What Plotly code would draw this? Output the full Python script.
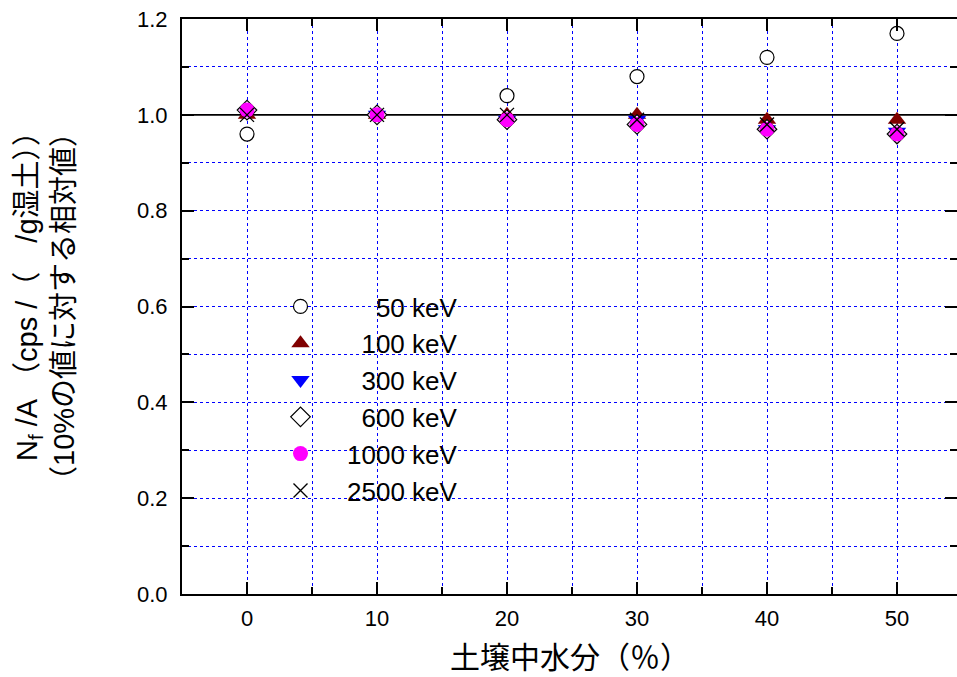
import plotly.graph_objects as go

moisture = [0, 10, 20, 30, 40, 50]
series_names = ["50 keV", "100 keV", "300 keV", "600 keV", "1000 keV", "2500 keV"]
v50 = [0.96, 1.00, 1.04, 1.08, 1.12, 1.17]
v100 = [1.00, 1.00, 1.00, 1.00, 0.99, 0.99]
v300 = [1.005, 1.00, 0.99, 0.99, 0.97, 0.965]
v600 = [1.01, 1.00, 0.99, 0.98, 0.97, 0.96]
v1000 = [1.01, 1.00, 0.99, 0.98, 0.97, 0.96]
v2500 = [1.00, 1.00, 1.00, 0.99, 0.98, 0.97]
ref_level = 1.0
y_ticks = [0.0, 0.2, 0.4, 0.6, 0.8, 1.0, 1.2]
x_ticks = [0, 10, 20, 30, 40, 50]

NB = "\u00a0"
labels = [NB * 4 + "50 keV", NB * 2 + "100 keV", NB * 2 + "300 keV",
          NB * 2 + "600 keV", "1000 keV", "2500 keV"]
values = [v50, v100, v300, v600, v1000, v2500]
styles = [
    dict(symbol="circle", size=14, color="white", line=dict(color="black", width=1.2)),
    dict(symbol="triangle-up", size=16, color="#800000", line=dict(color="#800000", width=0)),
    dict(symbol="triangle-down", size=16, color="#0000FF", line=dict(color="#0000FF", width=0)),
    dict(symbol="diamond", size=15, color="white", line=dict(color="black", width=1.2)),
    dict(symbol="circle", size=15, color="#FF00FF", line=dict(color="#FF00FF", width=0)),
    dict(symbol="x-thin", size=14, color="black", line=dict(color="black", width=1.4)),
]

FONT = "Liberation Sans, Arial, Noto Sans CJK JP, sans-serif"

W, H = 957, 677
ml, mr, mt, mb = 182, 0, 19, 83
pw = W - ml - mr
ph = H - mt - mb
x0 = -5
xr = [x0, x0 + pw / 13.0]
yr = [-0.0001, 1.2001]

fig = go.Figure()
fig.add_trace(go.Scatter(x=xr, y=[ref_level, ref_level], mode="lines",
                         line=dict(color="black", width=1.8), showlegend=False,
                         hoverinfo="skip"))
for name, lab, vals, st in zip(series_names, labels, values, styles):
    fig.add_trace(go.Scatter(x=moisture, y=vals, mode="markers", name=lab,
                             legendgroup=name, marker=st))

axis_common = dict(
    showline=True, linecolor="black", linewidth=2, mirror="ticks",
    ticks="inside", ticklen=12, tickwidth=2, tickcolor="black",
    showgrid=True, gridcolor="#0000FF", griddash="dot", gridwidth=1,
    zeroline=False, automargin=False,
    tickfont=dict(family=FONT, size=22, color="black"),
)

fig.update_xaxes(range=xr, tickvals=x_ticks, ticklabelstandoff=4,
                 minor=dict(dtick=5, tick0=-5, ticks="inside", ticklen=7, tickwidth=1.5,
                            tickcolor="black", showgrid=True, gridcolor="#0000FF",
                            griddash="dot", gridwidth=1),
                 **axis_common)
fig.update_yaxes(range=yr, tickvals=y_ticks, tickformat=".1f", ticklabelstandoff=8,
                 minor=dict(dtick=0.1, tick0=0, ticks="inside", ticklen=7, tickwidth=1.5,
                            tickcolor="black", showgrid=True, gridcolor="#0000FF",
                            griddash="dot", gridwidth=1),
                 **axis_common)

fig.add_annotation(text="土壌中水分（％）", xref="paper", yref="paper", x=0.5, y=0,
                   yshift=-63, showarrow=False, yanchor="middle",
                   font=dict(family=FONT, size=30, color="black"))
fig.add_annotation(text="N<sub>f</sub> /A" + NB + "（cps /（　/g湿土））",
                   xref="paper", yref="paper",
                   x=0, xshift=-153, y=1 - (289 - mt) / ph, textangle=-90,
                   showarrow=False, xanchor="center", yanchor="middle",
                   font=dict(family=FONT, size=29, color="black"))
fig.add_annotation(text="（10%の値に対する相対値）", xref="paper", yref="paper",
                   x=0, xshift=-118, y=1 - (307 - mt) / ph, textangle=-90,
                   showarrow=False, xanchor="center", yanchor="middle",
                   font=dict(family=FONT, size=29, color="black"))

fig.update_layout(
    width=W, height=H,
    margin=dict(l=ml, r=mr, t=mt, b=mb, pad=0, autoexpand=False),
    plot_bgcolor="white", paper_bgcolor="white",
    showlegend=True,
    legend=dict(x=72 / pw, y=1 - 264 / ph,
                xanchor="left", yanchor="top", bgcolor="rgba(0,0,0,0)",
                font=dict(family=FONT, size=26, color="black"),
                itemwidth=83, tracegroupgap=0),
)

fig.write_html("out.html", config={"displayModeBar": False},
               post_script="document.body.style.margin='0px';document.body.style.overflow='hidden';")
